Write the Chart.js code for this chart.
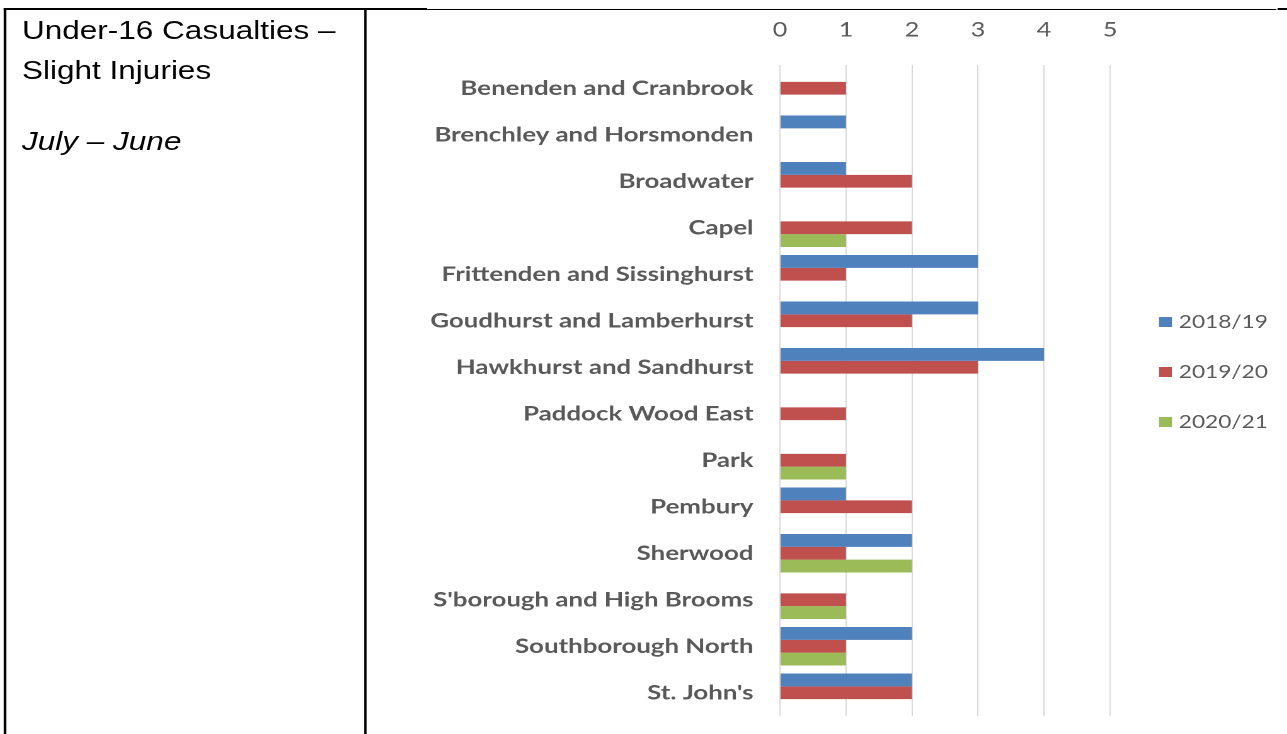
<!DOCTYPE html>
<html>
<head>
<meta charset="utf-8">
<title>Under-16 Casualties – Slight Injuries</title>
<script src="https://cdn.jsdelivr.net/npm/chart.js@4/dist/chart.umd.min.js"></script>
<style>
  html, body { margin: 0; padding: 0; background: #ffffff; overflow: hidden; }
  body { width: 1287px; height: 734px; position: relative; }
  /* the whole sheet is laid out on a narrower grid and widened horizontally */
  #sheet {
    position: absolute; left: 0; top: 0;
    width: 1021.4px; height: 734px;
    transform: scaleX(1.26); transform-origin: 0 0;
  }
  .rule { position: absolute; background: #000; }
  .cellText {
    position: absolute; left: 17.5px;
    font-family: "Liberation Sans", Arial, sans-serif;
    font-size: 25px; line-height: 40px; color: #000;
    white-space: nowrap;
  }
  #chartBox { position: absolute; left: 291px; top: 10px; width: 730.4px; height: 724px; }
</style>
</head>
<body>
<div id="sheet">
  <div class="rule" style="left:3.3px; top:8px; width:335.6px; height:2px;"></div>
  <div class="rule" style="left:338.9px; top:9px; width:674.6px; height:1px;"></div>
  <div class="rule" style="left:1013.5px; top:8px; width:8px; height:2px;"></div>
  <div class="rule" style="left:3.3px; top:8px; width:2px; height:726px;"></div>
  <div class="rule" style="left:288.7px; top:8px; width:2px; height:726px;"></div>

  <div class="cellText" style="top:10px;">Under-16 Casualties –<br>Slight Injuries</div>
  <div class="cellText" style="top:120.5px; font-style:italic;">July – June</div>

  <div id="chartBox"><canvas id="chart" width="730" height="724"></canvas></div>
</div>

<script>
// Wards, in the order they are listed down the chart
const categories = [
  "Benenden and Cranbrook",
  "Brenchley and Horsmonden",
  "Broadwater",
  "Capel",
  "Frittenden and Sissinghurst",
  "Goudhurst and Lamberhurst",
  "Hawkhurst and Sandhurst",
  "Paddock Wood East",
  "Park",
  "Pembury",
  "Sherwood",
  "S'borough and High Brooms",
  "Southborough North",
  "St. John's"
];

// Slight-injury casualties aged under 16, July – June
const seasonLabels = ["2018/19", "2019/20", "2020/21"];
const casualties201819 = [0, 1, 1, 0, 3, 3, 4, 0, 0, 1, 2, 0, 2, 2];
const casualties201920 = [1, 0, 2, 2, 1, 2, 3, 1, 1, 2, 1, 1, 1, 2];
const casualties202021 = [0, 0, 0, 1, 0, 0, 0, 0, 1, 0, 2, 1, 1, 0];
const seasonColours = ["#4F81BD", "#C0504D", "#9BBB59"];

// value axis
const axisMin = 0;
const axisMax = 5;
const axisStep = 1;

const textGrey = "#595959";
const seriesValues = [casualties201819, casualties201920, casualties202021];

// key drawn to the right of the plot, one row per season
const sideKey = {
  id: "sideKey",
  afterDraw(chart) {
    const ctx = chart.ctx;
    const area = chart.chartArea;
    const midY = (area.top + area.bottom) / 2 - 19.5;
    const rowGap = 50;
    const n = chart.data.datasets.length;
    ctx.save();
    ctx.font = "18px Lato, 'Open Sans', sans-serif";
    ctx.textBaseline = "middle";
    ctx.textAlign = "left";
    chart.data.datasets.forEach((ds, i) => {
      const y = midY + (i - (n - 1) / 2) * rowGap;
      ctx.fillStyle = ds.backgroundColor;
      ctx.fillRect(area.right + 38.8, y - 4, 10.3, 10);
      ctx.fillStyle = textGrey;
      ctx.fillText(ds.label, area.right + 54.5, y + 1);
    });
    ctx.restore();
  }
};

const chart = new Chart(document.getElementById("chart"), {
  type: "bar",
  data: {
    labels: categories,
    datasets: seasonLabels.map((label, i) => ({
      label: label,
      data: seriesValues[i],
      backgroundColor: seasonColours[i],
      borderWidth: 0,
      categoryPercentage: 0.83,
      barPercentage: 1.0
    }))
  },
  options: {
    indexAxis: "y",
    responsive: false,
    animation: false,
    devicePixelRatio: 2,
    layout: { padding: { top: 0, left: 0, right: 140, bottom: 18 } },
    plugins: {
      legend: { display: false },
      tooltip: { enabled: false },
      title: { display: false }
    },
    scales: {
      x: {
        position: "top",
        min: axisMin,
        max: axisMax,
        ticks: {
          stepSize: axisStep,
          color: textGrey,
          font: { family: "Lato, 'Open Sans', sans-serif", size: 20 },
          padding: 23
        },
        grid: { color: "#D9D9D9", lineWidth: 1, drawTicks: false },
        border: { display: false },
        afterFit(scale) {
          scale.height = 55;
          scale.paddingLeft = 0;
          scale.paddingRight = 0;
        }
      },
      y: {
        ticks: {
          color: textGrey,
          font: { family: "Lato, 'Open Sans', sans-serif", size: 20.5, weight: "bold" },
          padding: 21,
          autoSkip: false
        },
        grid: { display: false, drawTicks: false },
        border: { display: false },
        afterFit(scale) {
          scale.width = 328;
          scale.paddingTop = 0;
          scale.paddingBottom = 0;
        }
      }
    }
  },
  plugins: [sideKey]
});
</script>
</body>
</html>
